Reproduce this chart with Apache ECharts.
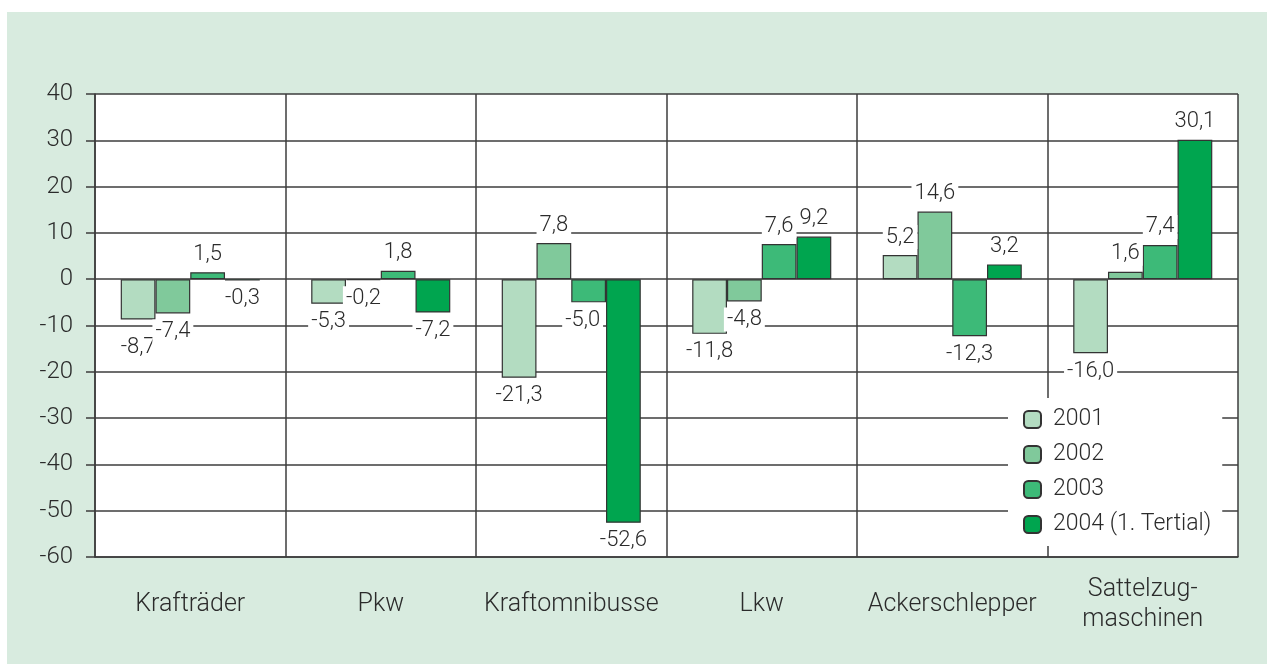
<!DOCTYPE html>
<html>
<head>
<meta charset="utf-8">
<script src="https://cdn.jsdelivr.net/npm/echarts@6/dist/echarts.min.js"></script>
<style>
html,body{margin:0;padding:0;background:#fff;}
#chart{width:1267px;height:664px;}
</style>
</head>
<body>
<div id="chart"></div>
<script>
var categories = ['Krafträder', 'Pkw', 'Kraftomnibusse', 'Lkw', 'Ackerschlepper', 'Sattelzug-\nmaschinen'];
var years = ['2001', '2002', '2003', '2004 (1. Tertial)'];
var v2001 = [-8.7, -5.3, -21.3, -11.8, 5.2, -16.0];
var v2002 = [-7.4, -0.2, 7.8, -4.8, 14.6, 1.6];
var v2003 = [1.5, 1.8, -5.0, 7.6, -12.3, 7.4];
var v2004 = [-0.3, -7.2, -52.6, 9.2, 3.2, 30.1];
var colors = ['#b3dcc1', '#80c99b', '#3dba78', '#00a54f'];

var font = 'Roboto';
var txt = '#2b2b2b';

// einzelne Labels etwas verschieben, damit sie sich nicht überlappen
var labelShift = {'0-0':[0,10], '2-2':[-6,0]};

// label oben bei positiven, unten bei negativen Werten
function mkData(arr, s){
	var out = [];
	for(var i=0;i<arr.length;i++){
		var lb = {position: arr[i] >= 0 ? 'top' : 'bottom'};
		if(labelShift[s+'-'+i]) lb.offset = labelShift[s+'-'+i];
		out.push({value:arr[i], label:lb});
	}
	return out;
}

function mkSeries(s, arr){
	return {
		name:years[s],
		type:'bar',
		data:mkData(arr, s),
		barGap:'0%',
		barCategoryGap:'27%',
		itemStyle:{color:colors[s], borderColor:'#333', borderWidth:1.2},
		label:{
			show:true,
			distance:6,
			color:txt,
			fontFamily:font,
			fontWeight:300,
			fontSize:22,
			backgroundColor:'#fff',
			padding:[1,3],
			formatter:function(p){ return p.value.toFixed(1).replace('.', ','); }
		},
		emphasis:{disabled:true}
	};
}

var myChart = echarts.init(document.getElementById('chart'));
var option = {
	animation:false,
	backgroundColor:'#fff',
	graphic:[{
		type:'rect', left:7, top:12, z:-10,
		shape:{width:1260, height:652},
		style:{fill:'#d8ebdf'}
	}],
	grid:{
		left:95, right:29, top:94, bottom:107,
		show:true, backgroundColor:'#fff', borderWidth:0
	},
	legend:{
		data:years,
		orient:'vertical',
		left:1008, top:398,
		backgroundColor:'#fff',
		padding:[10,11,10,15],
		itemWidth:17, itemHeight:17,
		itemGap:12,
		textStyle:{color:txt, fontFamily:font, fontWeight:300, fontSize:23, lineHeight:23, padding:[0,0,0,7]},
		selectedMode:false
	},
	xAxis:{
		type:'category',
		data:categories,
		axisLine:{onZero:false, lineStyle:{color:'#3c3c3c', width:1.5}},
		axisTick:{show:false},
		splitLine:{show:true, lineStyle:{color:'#3c3c3c', width:1.5}},
		axisLabel:{
			color:txt, fontFamily:font, fontWeight:300, fontSize:25,
			margin:48, verticalAlign:'middle', lineHeight:30, interval:0
		}
	},
	yAxis:{
		type:'value',
		min:-60, max:40, interval:10,
		axisLine:{show:true, lineStyle:{color:'#3c3c3c', width:1.5}},
		axisTick:{show:true, length:9, lineStyle:{color:'#3c3c3c', width:1.5}},
		splitLine:{show:true, lineStyle:{color:'#3c3c3c', width:1.5}},
		axisLabel:{color:txt, fontFamily:font, fontWeight:300, fontSize:24, margin:22}
	},
	series:[
		mkSeries(0, v2001),
		mkSeries(1, v2002),
		mkSeries(2, v2003),
		mkSeries(3, v2004)
	]
};
myChart.setOption(option);
</script>
</body>
</html>
